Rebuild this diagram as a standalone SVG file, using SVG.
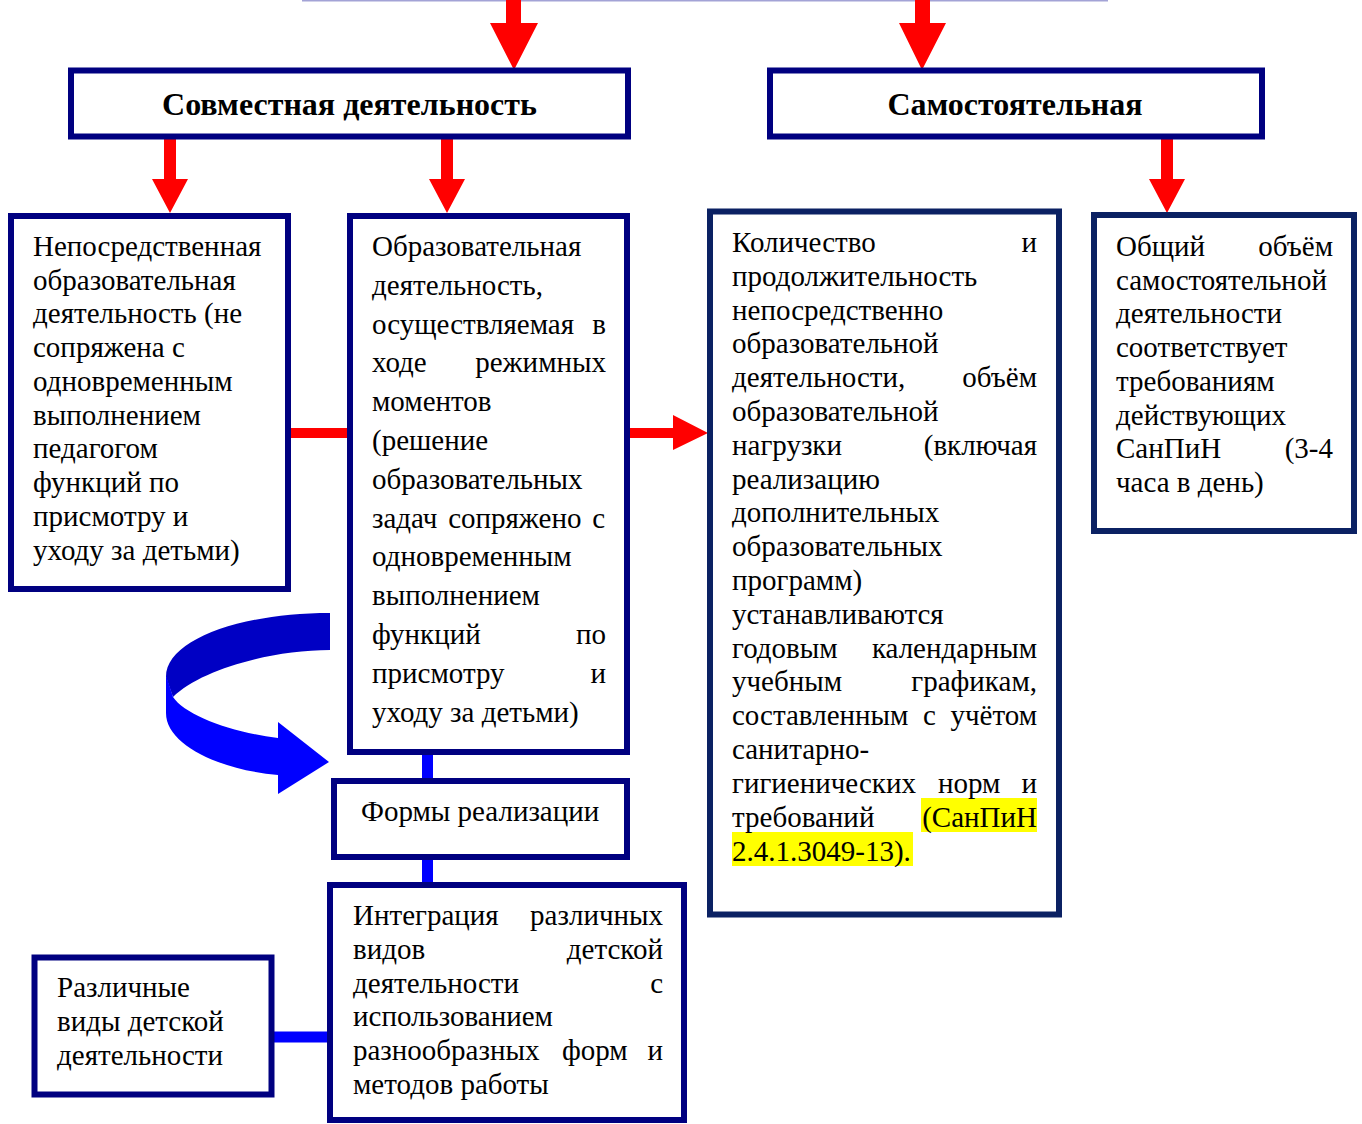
<svg xmlns="http://www.w3.org/2000/svg" width="1362" height="1124" viewBox="0 0 1362 1124">
<style>
.box{fill:#fff;stroke:#000080;stroke-width:6}
.box2{fill:#fff;stroke:#0b2163;stroke-width:6}
.t{font-family:"Liberation Serif","Times New Roman",serif;font-size:29px;fill:#000}
.h{font-family:"Liberation Serif","Times New Roman",serif;font-size:32px;font-weight:bold;fill:#000}
.red{fill:#ff0000}
.bl{stroke:#0000ff;stroke-width:11;fill:none}
.rl{stroke:#ff0000;stroke-width:10;fill:none}
.e{text-anchor:end}
</style>
<rect width="1362" height="1124" fill="#fff"/>
<g id="connectors">
  <line x1="302" y1="0.5" x2="1108" y2="0.5" stroke="#a3a3d6" stroke-width="2"/>
  <polygon class="red" points="506,0 521,0 521,23 538,23 514,70 490,23 506,23"/>
  <polygon class="red" points="915,0 930,0 930,23 946,23 922,70 899,23 915,23"/>
  <polygon class="red" points="164,137 176,137 176,179 188,179 170,213 152,179 164,179"/>
  <polygon class="red" points="441,137 453,137 453,179 465,179 447,213 429,179 441,179"/>
  <polygon class="red" points="1161,137 1173,137 1173,179 1185,179 1167,213 1149,179 1161,179"/>
  <line class="rl" x1="285" y1="433" x2="350" y2="433"/>
  <polygon class="red" points="628,428 673,428 673,415 708,433 673,450 673,438 628,438"/>
  <line class="bl" x1="427.5" y1="752" x2="427.5" y2="781"/>
  <line class="bl" x1="427.5" y1="857" x2="427.5" y2="885"/>
  <line class="bl" x1="271" y1="1037" x2="330" y2="1037"/>
  <path d="M330,613 C240,613 166,640 166,677 L173,697 C200,670 270,650 330,650 Z" fill="#0000c4"/>
  <path d="M166,675 L166,713 C166,745 220,770 278,775 L278,794 L329,762 L278,722 L278,738 C230,732 185,715 173,697 Z" fill="#0000ff"/>
</g>
<g id="node-sovm">
  <rect class="box" x="71" y="70.5" width="557" height="66"/>
  <text class="h" x="349.5" y="115" text-anchor="middle">Совместная деятельность</text>
</g>
<g id="node-samost">
  <rect class="box" x="770" y="70.5" width="492" height="66"/>
  <text class="h" x="1015" y="115" text-anchor="middle">Самостоятельная</text>
</g>
<g id="node-nod">
  <rect class="box" x="11" y="216" width="277" height="373"/>
  <text class="t">
    <tspan x="33" y="256">Непосредственная</tspan>
    <tspan x="33" y="290">образовательная</tspan>
    <tspan x="33" y="323">деятельность (не</tspan>
    <tspan x="33" y="357">сопряжена с</tspan>
    <tspan x="33" y="391">одновременным</tspan>
    <tspan x="33" y="425">выполнением</tspan>
    <tspan x="33" y="458">педагогом</tspan>
    <tspan x="33" y="492">функций по</tspan>
    <tspan x="33" y="526">присмотру и</tspan>
    <tspan x="33" y="560">уходу за детьми)</tspan>
  </text>
</g>
<g id="node-od">
  <rect class="box" x="350" y="216" width="277" height="536"/>
  <text class="t">
    <tspan x="372" y="256">Образовательная</tspan>
    <tspan x="372" y="295">деятельность,</tspan>
    <tspan x="372" y="334">осуществляемая</tspan>
    <tspan x="372" y="372">ходе</tspan>
    <tspan x="372" y="411">моментов</tspan>
    <tspan x="372" y="450">(решение</tspan>
    <tspan x="372" y="489">образовательных</tspan>
    <tspan x="372" y="528" word-spacing="3.5">задач сопряжено с</tspan>
    <tspan x="372" y="566">одновременным</tspan>
    <tspan x="372" y="605">выполнением</tspan>
    <tspan x="372" y="644">функций</tspan>
    <tspan x="372" y="683">присмотру</tspan>
    <tspan x="372" y="722">уходу за детьми)</tspan>
  </text>
  <text class="t e"><tspan x="606" y="334">в</tspan><tspan x="606" y="372">режимных</tspan><tspan x="606" y="644">по</tspan><tspan x="606" y="683">и</tspan></text>
</g>
<g id="node-kol">
  <rect class="box2" x="710" y="211.5" width="349" height="703"/>
  <rect x="921" y="798" width="116" height="34" fill="#ffff00"/>
  <rect x="732" y="832" width="181" height="34" fill="#ffff00"/>
  <text class="t">
    <tspan x="732" y="252">Количество</tspan>
    <tspan x="732" y="286">продолжительность</tspan>
    <tspan x="732" y="320">непосредственно</tspan>
    <tspan x="732" y="353">образовательной</tspan>
    <tspan x="732" y="387">деятельности,</tspan>
    <tspan x="732" y="421">образовательной</tspan>
    <tspan x="732" y="455">нагрузки</tspan>
    <tspan x="732" y="489">реализацию</tspan>
    <tspan x="732" y="522">дополнительных</tspan>
    <tspan x="732" y="556">образовательных</tspan>
    <tspan x="732" y="590">программ)</tspan>
    <tspan x="732" y="624">устанавливаются</tspan>
    <tspan x="732" y="658">годовым</tspan>
    <tspan x="732" y="691">учебным</tspan>
    <tspan x="732" y="725">составленным</tspan>
    <tspan x="923" y="725">с</tspan>
    <tspan x="732" y="759">санитарно-</tspan>
    <tspan x="732" y="793">гигиенических</tspan>
    <tspan x="938" y="793">норм</tspan>
    <tspan x="732" y="827">требований</tspan>
    <tspan x="732" y="861">2.4.1.3049-13).</tspan>
  </text>
  <text class="t e"><tspan x="1037" y="252">и</tspan><tspan x="1037" y="387">объём</tspan><tspan x="1037" y="455">(включая</tspan><tspan x="1037" y="658">календарным</tspan><tspan x="1037" y="691">графикам,</tspan><tspan x="1037" y="725">учётом</tspan><tspan x="1037" y="793">и</tspan><tspan x="1037" y="827">(СанПиН</tspan></text>
</g>
<g id="node-obsh">
  <rect class="box2" x="1094" y="215" width="260" height="316"/>
  <text class="t">
    <tspan x="1116" y="256">Общий</tspan>
    <tspan x="1116" y="290">самостоятельной</tspan>
    <tspan x="1116" y="323">деятельности</tspan>
    <tspan x="1116" y="357">соответствует</tspan>
    <tspan x="1116" y="391">требованиям</tspan>
    <tspan x="1116" y="425">действующих</tspan>
    <tspan x="1116" y="458">СанПиН</tspan>
    <tspan x="1116" y="492">часа в день)</tspan>
  </text>
  <text class="t e"><tspan x="1333" y="256">объём</tspan><tspan x="1333" y="458">(3-4</tspan></text>
</g>
<g id="node-formy">
  <rect class="box" x="334" y="781" width="293" height="76"/>
  <text class="t" x="361" y="821">Формы реализации</text>
</g>
<g id="node-integr">
  <rect class="box" x="330" y="885" width="354" height="235"/>
  <text class="t">
    <tspan x="353" y="925">Интеграция</tspan>
    <tspan x="353" y="959">видов</tspan>
    <tspan x="353" y="993">деятельности</tspan>
    <tspan x="353" y="1026">использованием</tspan>
    <tspan x="353" y="1060">разнообразных</tspan>
    <tspan x="562" y="1060">форм</tspan>
    <tspan x="353" y="1094">методов работы</tspan>
  </text>
  <text class="t e"><tspan x="663" y="925">различных</tspan><tspan x="663" y="959">детской</tspan><tspan x="663" y="993">с</tspan><tspan x="663" y="1060">и</tspan></text>
</g>
<g id="node-razl">
  <rect class="box" x="34.5" y="957.5" width="237" height="137"/>
  <text class="t">
    <tspan x="57" y="997">Различные</tspan>
    <tspan x="57" y="1031">виды детской</tspan>
    <tspan x="57" y="1065">деятельности</tspan>
  </text>
</g>
</svg>
